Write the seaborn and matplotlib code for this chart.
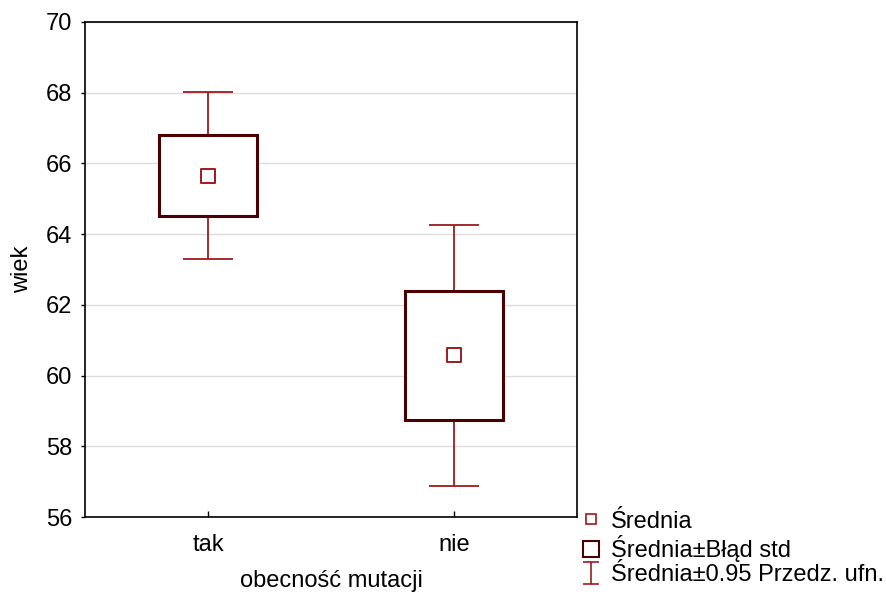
import numpy as np
import pandas as pd
import matplotlib
matplotlib.use("Agg")
import matplotlib.pyplot as plt
from matplotlib.lines import Line2D
from matplotlib.path import Path
import seaborn as sns

# Group means, standard errors and 95% CI half-widths of age
groups = ["tak", "nie"]
means = [65.65, 60.57]
std_err = [1.15, 1.83]
ci95 = [2.36, 3.70]

y_ticks = [56, 58, 60, 62, 64, 66, 68, 70]
x_label = "obecność mutacji"
y_label = "wiek"
legend_labels = ["Średnia", "Średnia±Błąd std", "Średnia±0.95 Przedz. ufn."]

df = pd.DataFrame({"grupa": groups, "srednia": means, "se": std_err, "ci": ci95})
df["dol"] = df["srednia"] - df["se"]

sns.set_theme(style="white")
plt.rcParams["font.family"] = ["Liberation Sans", "DejaVu Sans"]

BOX_C = "#4a0000"
BAR_C = "#9b1c1c"
FS = 17

fig = plt.figure(figsize=(8.86, 5.92), dpi=100)
ax = fig.add_axes([85 / 886, 1 - 517 / 592, (577 - 85) / 886, (517 - 22) / 592])

# confidence-interval whiskers
ax.errorbar(df["grupa"], df["srednia"], yerr=df["ci"], fmt="none",
            ecolor=BAR_C, elinewidth=1.3, capsize=18, capthick=1.3, zorder=2)
# mean ± standard error boxes
ax.bar(df["grupa"], 2 * df["se"], bottom=df["dol"], width=0.4,
       color="white", edgecolor=BOX_C, linewidth=2.2, zorder=3)
# means
sns.scatterplot(data=df, x="grupa", y="srednia", marker="s", s=90,
                facecolor="white", edgecolor=BAR_C, linewidth=1.4,
                zorder=4, ax=ax, legend=False)

ax.set_xlim(-0.5, 1.5)
ax.set_ylim(56, 70)
ax.set_yticks(y_ticks)
ax.yaxis.grid(True, color="#dcdcdc", linewidth=1)
ax.xaxis.grid(False)
ax.set_axisbelow(True)
for s in ax.spines.values():
    s.set_color("black")
    s.set_linewidth(1.2)
ax.tick_params(axis="y", direction="out", length=3, width=1, colors="black",
               labelsize=FS, pad=6, left=True)
ax.tick_params(axis="x", direction="in", length=4, width=1, colors="black",
               labelsize=FS, pad=12, bottom=True)
ax.set_xlabel(x_label, fontsize=FS, color="black", labelpad=10)
ax.set_ylabel(y_label, fontsize=FS, color="black", labelpad=9)

# I-beam glyph for the CI legend entry
ibeam = Path([(-0.68, 1), (0.68, 1), (0, 1), (0, -1), (-0.68, -1), (0.68, -1)],
             [Path.MOVETO, Path.LINETO, Path.MOVETO, Path.LINETO,
              Path.MOVETO, Path.LINETO])
handles = [
    Line2D([], [], linestyle="none", marker="s", markersize=7,
           markerfacecolor="white", markeredgecolor=BAR_C, markeredgewidth=1.2),
    Line2D([], [], linestyle="none", marker="s", markersize=12,
           markerfacecolor="white", markeredgecolor=BOX_C, markeredgewidth=1.5),
    Line2D([], [], linestyle="none", marker=ibeam, markersize=16,
           markerfacecolor="none", markeredgecolor=BAR_C, markeredgewidth=1.2),
]
fig.legend(handles, legend_labels, loc="upper left",
           bbox_to_anchor=(564 / 886, 1 - 494 / 592), frameon=False,
           fontsize=FS, labelcolor="black", handlelength=0.9, handletextpad=0.4,
           labelspacing=0.1, borderpad=0.2)

fig.savefig("out.png", dpi=100, facecolor="white")
